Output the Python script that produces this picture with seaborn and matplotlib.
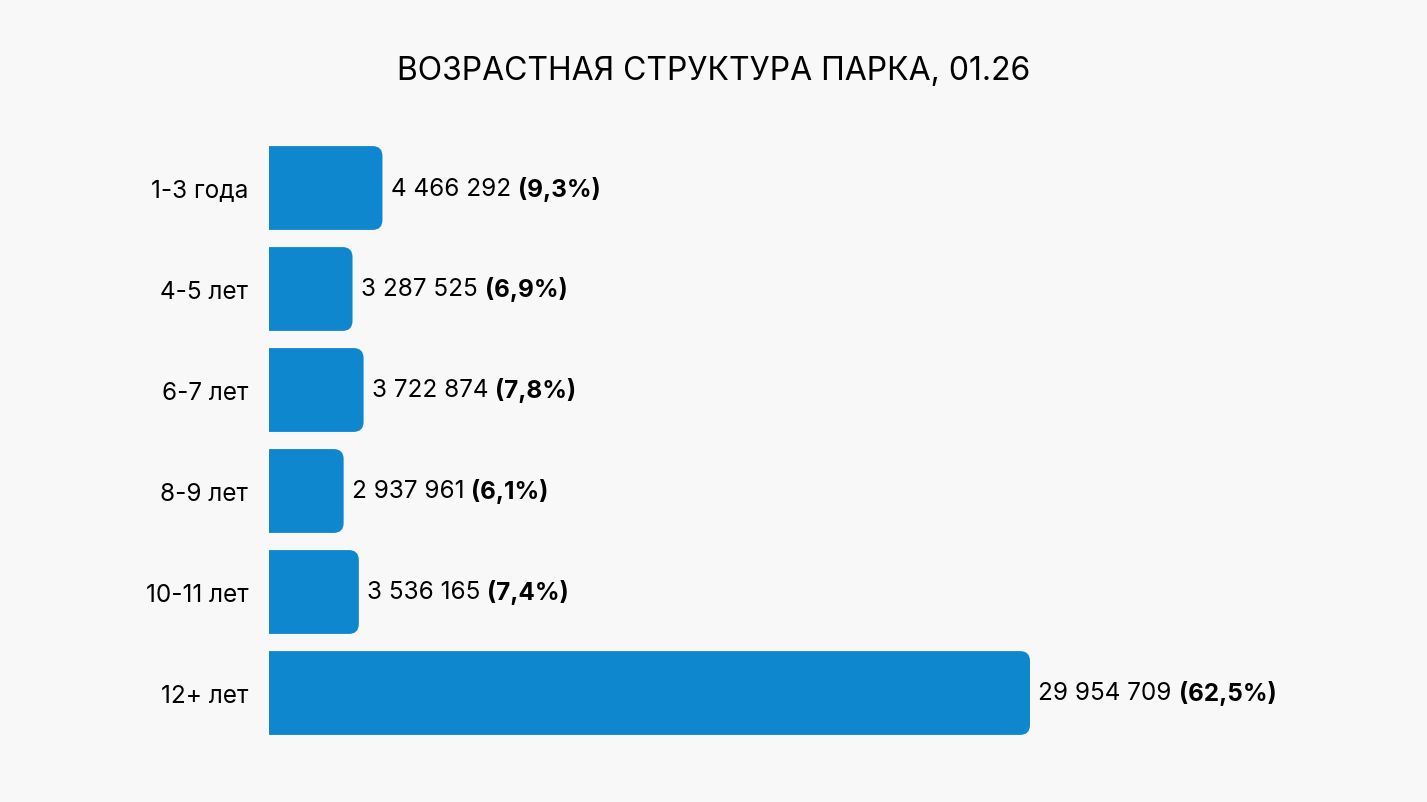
import numpy as np
import pandas as pd
import matplotlib
matplotlib.use("Agg")
import matplotlib.pyplot as plt
from matplotlib.patches import FancyBboxPatch
import seaborn as sns

# dados do parque por idade
categorias = ["1-3 года", "4-5 лет", "6-7 лет", "8-9 лет", "10-11 лет", "12+ лет"]
valores = [4466292, 3287525, 3722874, 2937961, 3536165, 29954709]
rotulos_valor = ["4 466 292", "3 287 525", "3 722 874", "2 937 961", "3 536 165", "29 954 709"]
rotulos_pct = ["(9,3%)", "(6,9%)", "(7,8%)", "(6,1%)", "(7,4%)", "(62,5%)"]
titulo = "ВОЗРАСТНАЯ СТРУКТУРА ПАРКА, 01.26"

sns.set_style("white")
plt.rcParams['font.family'] = ['Inter', 'DejaVu Sans']

bg = "#f8f8f8"
azul = "#0e87cf"
preto = "#000000"

df = pd.DataFrame({"idade": categorias, "qtd": valores})

fig = plt.figure(figsize=(14.27, 8.03), dpi=100, facecolor=bg)
W, H = 1427, 803
ax = fig.add_axes([269 / W, (803 - 744.5) / H, (1030 - 269) / W, 606 / H])
ax.set_facecolor(bg)

sns.barplot(data=df, x="qtd", y="idade", orient="h", color=azul,
            width=0.83, ax=ax, saturation=1)

ax.set_xlim(0, max(valores))
ax.set_ylim(5.5, -0.5)

# trocando as barras por retangulos com canto arredondado
xpx = max(valores) / (1030 - 269)
ypx = 6 / 606
raio = 10 * xpx
for p in list(ax.patches):
    x0, y0, w, h = p.get_x(), p.get_y(), p.get_width(), p.get_height()
    p.remove()
    fb = FancyBboxPatch((x0 - 3 * raio, y0), w + 3 * raio, h,
                        boxstyle=f"round,pad=0,rounding_size={raio}",
                        mutation_aspect=ypx / xpx,
                        facecolor=azul, edgecolor="none", clip_on=True)
    ax.add_patch(fb)

fs = 17.5
for i, v in enumerate(valores):
    t = ax.annotate(rotulos_valor[i], xy=(v, i), xytext=(6, 0),
                    textcoords="offset points", va="center", ha="left",
                    fontsize=fs, color=preto, annotation_clip=False)
    ax.annotate(rotulos_pct[i], xy=(1, 0.5), xycoords=t, xytext=(5, 0),
                textcoords="offset points", va="center", ha="left",
                fontsize=fs, fontweight="bold", color=preto,
                annotation_clip=False)

ax.set_xlabel("")
ax.set_ylabel("")
ax.set_xticks([])
ax.tick_params(axis="y", length=0, pad=15, labelsize=fs, labelcolor=preto)
sns.despine(ax=ax, left=True, bottom=True)

fig.text(0.5, 1 - 71 / H, titulo, ha="center", va="center",
         fontsize=23, color=preto)

fig.savefig("out.png", dpi=100, facecolor=bg)
